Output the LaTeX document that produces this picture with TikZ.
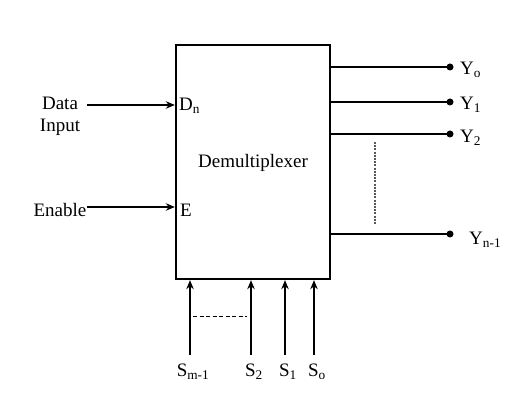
\documentclass[tikz,border=0pt]{standalone}
\usepackage{fontspec}
\setmainfont{Liberation Serif}
\usetikzlibrary{arrows.meta}
\begin{document}
\begin{tikzpicture}[x=1pt,y=-1pt,
  lbl/.style={inner sep=0pt,font=\fontsize{19}{22}\selectfont},
  wire/.style={line width=1.2pt},
  arr/.style={wire,-{Stealth[length=9pt,width=7.5pt]}},
  dotend/.style={circle,fill=black,inner sep=0pt,minimum size=7pt}]
\useasboundingbox (0,0) rectangle (515,401);
\node[draw,line width=2.4pt,minimum width=154pt,minimum height=234pt,inner sep=0pt] (box) at (253,162) {};
\node[lbl] (dm) at (253,163) {Demultiplexer};
% inputs
\node[lbl,align=center] (data) at (60,116) {Data\\Input};
\coordinate (datas) at (87,105);
\node[lbl,anchor=west] (dn) at (179,106) {D\textsubscript{n}};
\draw[arr] (datas) -- (box.west |- datas);
\node[lbl] (en) at (60,210) {Enable};
\coordinate (ens) at (87,207);
\node[lbl,anchor=west] (e) at (180,210) {E};
\draw[arr] (ens) -- (box.west |- ens);
% outputs
\foreach \n/\y/\lab/\lx/\ly in {y0/67/Y\textsubscript{o}/460/70, y1/102/Y\textsubscript{1}/460/105, y2/134/Y\textsubscript{2}/460/138, yn/234/Y\textsubscript{n-1}/469/240}{
  \node[dotend] (\n) at (450,\y) {};
  \draw[wire] (box.east |- \n) -- (\n.center);
  \node[lbl,anchor=west] (\n l) at (\lx,\ly) {\lab};
}
\coordinate (dv1) at (375,142);
\coordinate (dv2) at (375,224);
\draw[line width=1.1pt,gray!70!black,dash pattern=on 2pt off 1.2pt] (dv1) -- (dv2);
% selects
\foreach \n/\x/\lab in {sm/190/S\textsubscript{m-1}, s2/251/S\textsubscript{2}, s1/285/S\textsubscript{1}, s0/314/S\textsubscript{o}}{
  \coordinate (\n) at (\x,355);
  \draw[arr] (\n) -- (\n |- box.south);
  \node[lbl] (\n l) at (\x+3,372) {\lab};
}
\coordinate (dh1) at (193,317);
\coordinate (dh2) at (247,317);
\draw[line width=1pt,dash pattern=on 4pt off 2.5pt] (dh1) -- (dh2);
\end{tikzpicture}
\end{document}
